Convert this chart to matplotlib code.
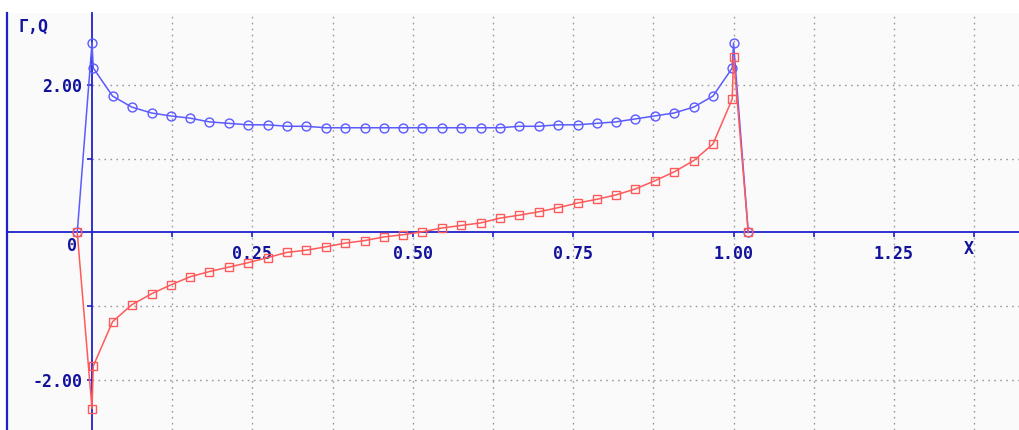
import matplotlib
matplotlib.use("Agg")
import matplotlib.pyplot as plt
from matplotlib.ticker import FixedLocator, FixedFormatter

# Collocation stations along the chord
x_stations = [0.002, 0.032, 0.062, 0.093, 0.123, 0.153, 0.183, 0.213, 0.243,
              0.274, 0.304, 0.334, 0.364, 0.394, 0.425, 0.455, 0.485, 0.515,
              0.545, 0.575, 0.606, 0.636, 0.666, 0.696, 0.726, 0.757, 0.787,
              0.817, 0.847, 0.877, 0.907, 0.938, 0.968, 0.998]

# Vortex strength (Gamma) at the stations
gamma = [2.23, 1.85, 1.70, 1.62, 1.58, 1.55, 1.50, 1.48, 1.46, 1.46, 1.44, 1.44,
         1.42, 1.42, 1.42, 1.42, 1.42, 1.42, 1.42, 1.42, 1.42, 1.42,
         1.44, 1.44, 1.46, 1.46, 1.48, 1.50, 1.54, 1.58, 1.62, 1.70, 1.85, 2.23]

# Source strength (Q) at the stations
q = [-1.81, -1.21, -0.98, -0.83, -0.71, -0.60, -0.53, -0.47, -0.41, -0.34,
     -0.27, -0.24, -0.195, -0.145, -0.11, -0.06, -0.03, 0.01, 0.06, 0.095,
     0.13, 0.195, 0.235, 0.28, 0.335, 0.40, 0.45, 0.51, 0.59, 0.70, 0.82,
     0.975, 1.20, 1.81]

# Edge values: outside points, then the leading/trailing edge nodes
x_outer = [-0.023, 1.023]
x_edges = [0.0, 1.0]
gamma_edges = [2.57, 2.57]
q_edges = [-2.39, 2.38]
outer_value = [0.0, 0.0]

x_tick_values = [0.125, 0.25, 0.375, 0.5, 0.625, 0.75, 0.875, 1.0, 1.125, 1.25, 1.375]
x_tick_labels = ["", "0.25", "", "0.50", "", "0.75", "", "1.00", "", "1.25", ""]
y_tick_values = [-2, -1, 1, 2]
y_tick_labels = ["-2.00", "", "", "2.00"]

axis_blue = "#2020cc"
text_blue = "#12129c"
grid_grey = "#9a9a9a"
line_blue = "#5b5bff"
line_red = "#ff5a5a"

fig = plt.figure(figsize=(10.19, 4.30), dpi=100)
fig.patch.set_facecolor("white")

x_min, x_max = -0.1325, 1.445
y_min, y_max = -2.678, 2.976
ax = fig.add_axes([7 / 1019, 0.0, 1 - 7 / 1019, 1 - 13 / 430])
ax.set_xlim(x_min, x_max)
ax.set_ylim(y_min, y_max)
ax.set_facecolor("#fafafa")

# Dotted grid, only to the right of the vertical axis
for xv in x_tick_values:
    ax.plot([xv, xv], [y_min, y_max], color=grid_grey, lw=1.0,
            dashes=(1.2, 3.1), zorder=1)
for yv in y_tick_values:
    ax.plot([0, x_max], [yv, yv], color=grid_grey, lw=1.0,
            dashes=(1.2, 3.1), zorder=1)

# Axes crossing at the origin
for side in ("top", "right"):
    ax.spines[side].set_visible(False)
ax.spines["left"].set_position(("data", 0))
ax.spines["bottom"].set_position(("data", 0))
for side in ("left", "bottom"):
    ax.spines[side].set_color(axis_blue)
    ax.spines[side].set_linewidth(1.3)
    ax.spines[side].set_zorder(2)

# Frame line on the far left
ax.plot([0.0, 0.0], [0.0, 1.0], transform=ax.transAxes, color=axis_blue,
        lw=1.6, clip_on=False, zorder=3)

tick_font = dict(family="DejaVu Sans Mono", weight="bold", size=12)

ax.xaxis.set_major_locator(FixedLocator(x_tick_values))
ax.xaxis.set_major_formatter(FixedFormatter(x_tick_labels))
ax.yaxis.set_major_locator(FixedLocator(y_tick_values))
ax.yaxis.set_major_formatter(FixedFormatter(y_tick_labels))
ax.tick_params(axis="both", direction="out", length=3.8, width=1.2,
               color=axis_blue, labelcolor=text_blue)
ax.tick_params(axis="x", pad=5.5)
ax.tick_params(axis="y", pad=3.0)
for lab in ax.get_xticklabels() + ax.get_yticklabels():
    lab.set_fontproperties(tick_font)

# Series: outer point -> edge node -> stations -> edge node -> outer point
gx = [x_outer[0], x_edges[0]] + x_stations + [x_edges[1], x_outer[1]]
gy = [outer_value[0], gamma_edges[0]] + gamma + [gamma_edges[1], outer_value[1]]
qy = [outer_value[0], q_edges[0]] + q + [q_edges[1], outer_value[1]]

ax.plot(gx, gy, color=line_blue, lw=1.1, marker="o", markersize=6.4,
        markerfacecolor="none", markeredgecolor=line_blue, markeredgewidth=1.0,
        zorder=4, clip_on=False)
ax.plot(gx, qy, color=line_red, lw=1.1, marker="s", markersize=5.4,
        markerfacecolor="none", markeredgecolor=line_red, markeredgewidth=1.0,
        zorder=5, clip_on=False)

# Axis captions
ax.text(-0.031, -0.18, "0", ha="center", va="center", color=text_blue,
        fontproperties=tick_font)
ax.text(1.374, -0.22, "X", ha="right", va="center", color=text_blue,
        fontproperties=tick_font)
ax.text(-0.114, 2.79, "Γ,Q", ha="left", va="center", color=text_blue,
        fontproperties=tick_font)

fig.savefig("out.png", dpi=100, facecolor="white")
